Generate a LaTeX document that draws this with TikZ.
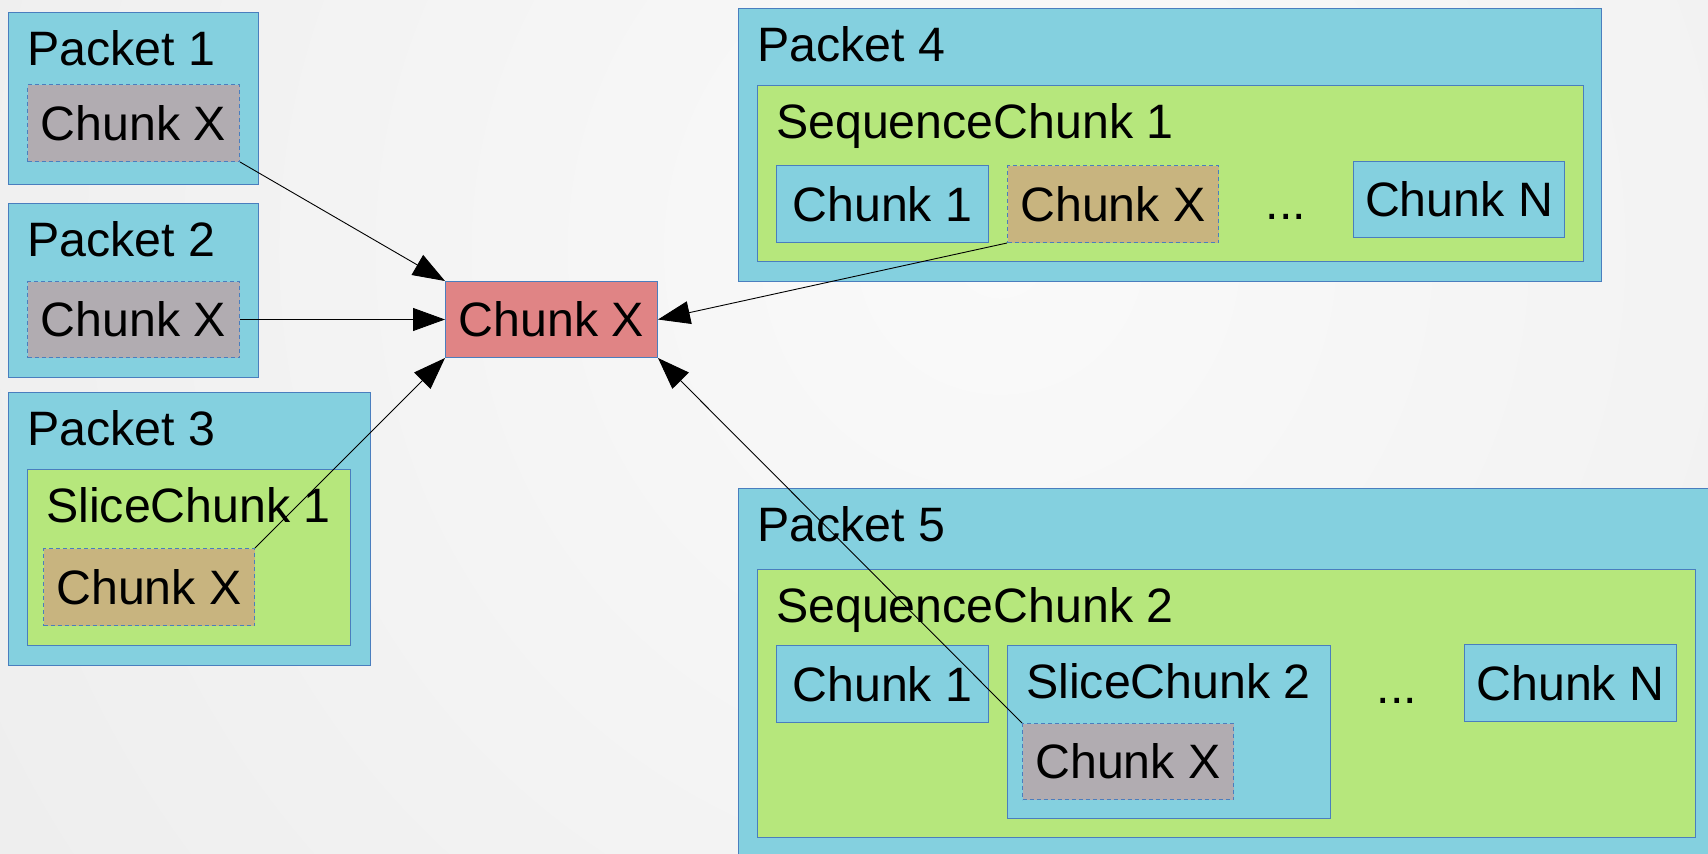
\documentclass[tikz,border=0pt]{standalone}
\usepackage{fontspec}
\setmainfont{Liberation Sans}
\usetikzlibrary{arrows.meta}
\definecolor{pblue}{RGB}{132,208,223}
\definecolor{pgreen}{RGB}{182,231,124}
\definecolor{pgrey}{RGB}{177,172,177}
\definecolor{ptan}{RGB}{200,180,127}
\definecolor{pred}{RGB}{224,132,133}
\definecolor{bcol}{RGB}{74,126,190}
\definecolor{bgin}{RGB}{250,250,250}
\definecolor{bgout}{RGB}{224,224,224}
\tikzset{
  box/.style={draw=bcol, line width=1pt, inner sep=0pt, anchor=north west, rectangle},
  packet/.style={box, fill=pblue},
  seqbox/.style={box, fill=pgreen},
  chunkbox/.style={box, fill=pblue, font=\fontsize{48.3}{58}\selectfont},
  refchunk/.style={box, dash pattern=on 4pt off 3pt, font=\fontsize{48.3}{58}\selectfont},
  lbl/.style={anchor=base west, inner sep=0pt, font=\fontsize{48.3}{58}\selectfont},
  dots/.style={anchor=base, inner sep=0pt, font=\fontsize{48.3}{58}\selectfont},
  link/.style={draw=black, line width=0.9pt, -{Triangle[length=32pt,width=23pt]}}
}
\begin{document}
\begin{tikzpicture}[x=1pt,y=-1pt]
\useasboundingbox (0,0) rectangle (1708,854);
\begin{scope}
\clip (0,0) rectangle (1708,854);
\shade[inner color=bgin, outer color=bgout] (1000,250) circle (2500);
\end{scope}

% Packet 1
\node[packet, minimum width=250pt, minimum height=172pt] (p1) at (8,12) {};
\node[lbl] (p1l) at (27,65) {Packet 1};
\node[refchunk, fill=pgrey, minimum width=212pt, minimum height=77pt] (c1) at (27,84) {Chunk X};

% Packet 2
\node[packet, minimum width=250pt, minimum height=174pt] (p2) at (8,203) {};
\node[lbl] (p2l) at (27,256) {Packet 2};
\node[refchunk, fill=pgrey, minimum width=212pt, minimum height=76pt] (c2) at (27,281) {Chunk X};

% Packet 3
\node[packet, minimum width=362pt, minimum height=273pt] (p3) at (8,392) {};
\node[lbl] (p3l) at (27,445) {Packet 3};
\node[seqbox, minimum width=323pt, minimum height=176pt] (s1) at (27,469) {};
\node[lbl] (s1l) at (46,522) {SliceChunk 1};
\node[refchunk, fill=ptan, minimum width=211pt, minimum height=77pt] (c3) at (43,548) {Chunk X};

% Central chunk
\node[box, fill=pred, minimum width=212pt, minimum height=76pt, font=\fontsize{48.3}{58}\selectfont] (cx) at (445,281) {Chunk X};

% Packet 4
\node[packet, minimum width=863pt, minimum height=273pt] (p4) at (738,8) {};
\node[lbl] (p4l) at (757,61) {Packet 4};
\node[seqbox, minimum width=826pt, minimum height=176pt] (q1) at (757,85) {};
\node[lbl] (q1l) at (776,138) {SequenceChunk 1};
\node[chunkbox, minimum width=212pt, minimum height=77pt] (q1a) at (776,165) {Chunk 1};
\node[refchunk, fill=ptan, minimum width=211pt, minimum height=77pt] (c4) at (1007,165) {Chunk X};
\node[dots] (q1d) at (1286,219) {...};
\node[chunkbox, minimum width=211pt, minimum height=76pt] (q1n) at (1353,161) {Chunk N};

% Packet 5
\node[packet, minimum width=990pt, minimum height=400pt] (p5) at (738,488) {};
\node[lbl] (p5l) at (757,541) {Packet 5};
\node[seqbox, minimum width=938pt, minimum height=268pt] (q2) at (757,569) {};
\node[lbl] (q2l) at (776,622) {SequenceChunk 2};
\node[chunkbox, minimum width=212pt, minimum height=77pt] (q2a) at (776,645) {Chunk 1};
\node[box, fill=pblue, minimum width=323pt, minimum height=173pt] (s2) at (1007,645) {};
\node[lbl] (s2l) at (1026,698) {SliceChunk 2};
\node[refchunk, fill=pgrey, minimum width=211pt, minimum height=76pt] (c5) at (1022,723) {Chunk X};
\node[dots] (q2d) at (1397,703) {...};
\node[chunkbox, minimum width=212pt, minimum height=77pt] (q2n) at (1464,644) {Chunk N};

% Connectors
\draw[link] (c1.south east) -- (cx.north west);
\draw[link] (c2.east) -- (cx.west);
\draw[link] (c3.north east) -- (cx.south west);
\draw[link] (c4.south west) -- (cx.east);
\draw[link] (c5.north west) -- (cx.south east);
\end{tikzpicture}
\end{document}
